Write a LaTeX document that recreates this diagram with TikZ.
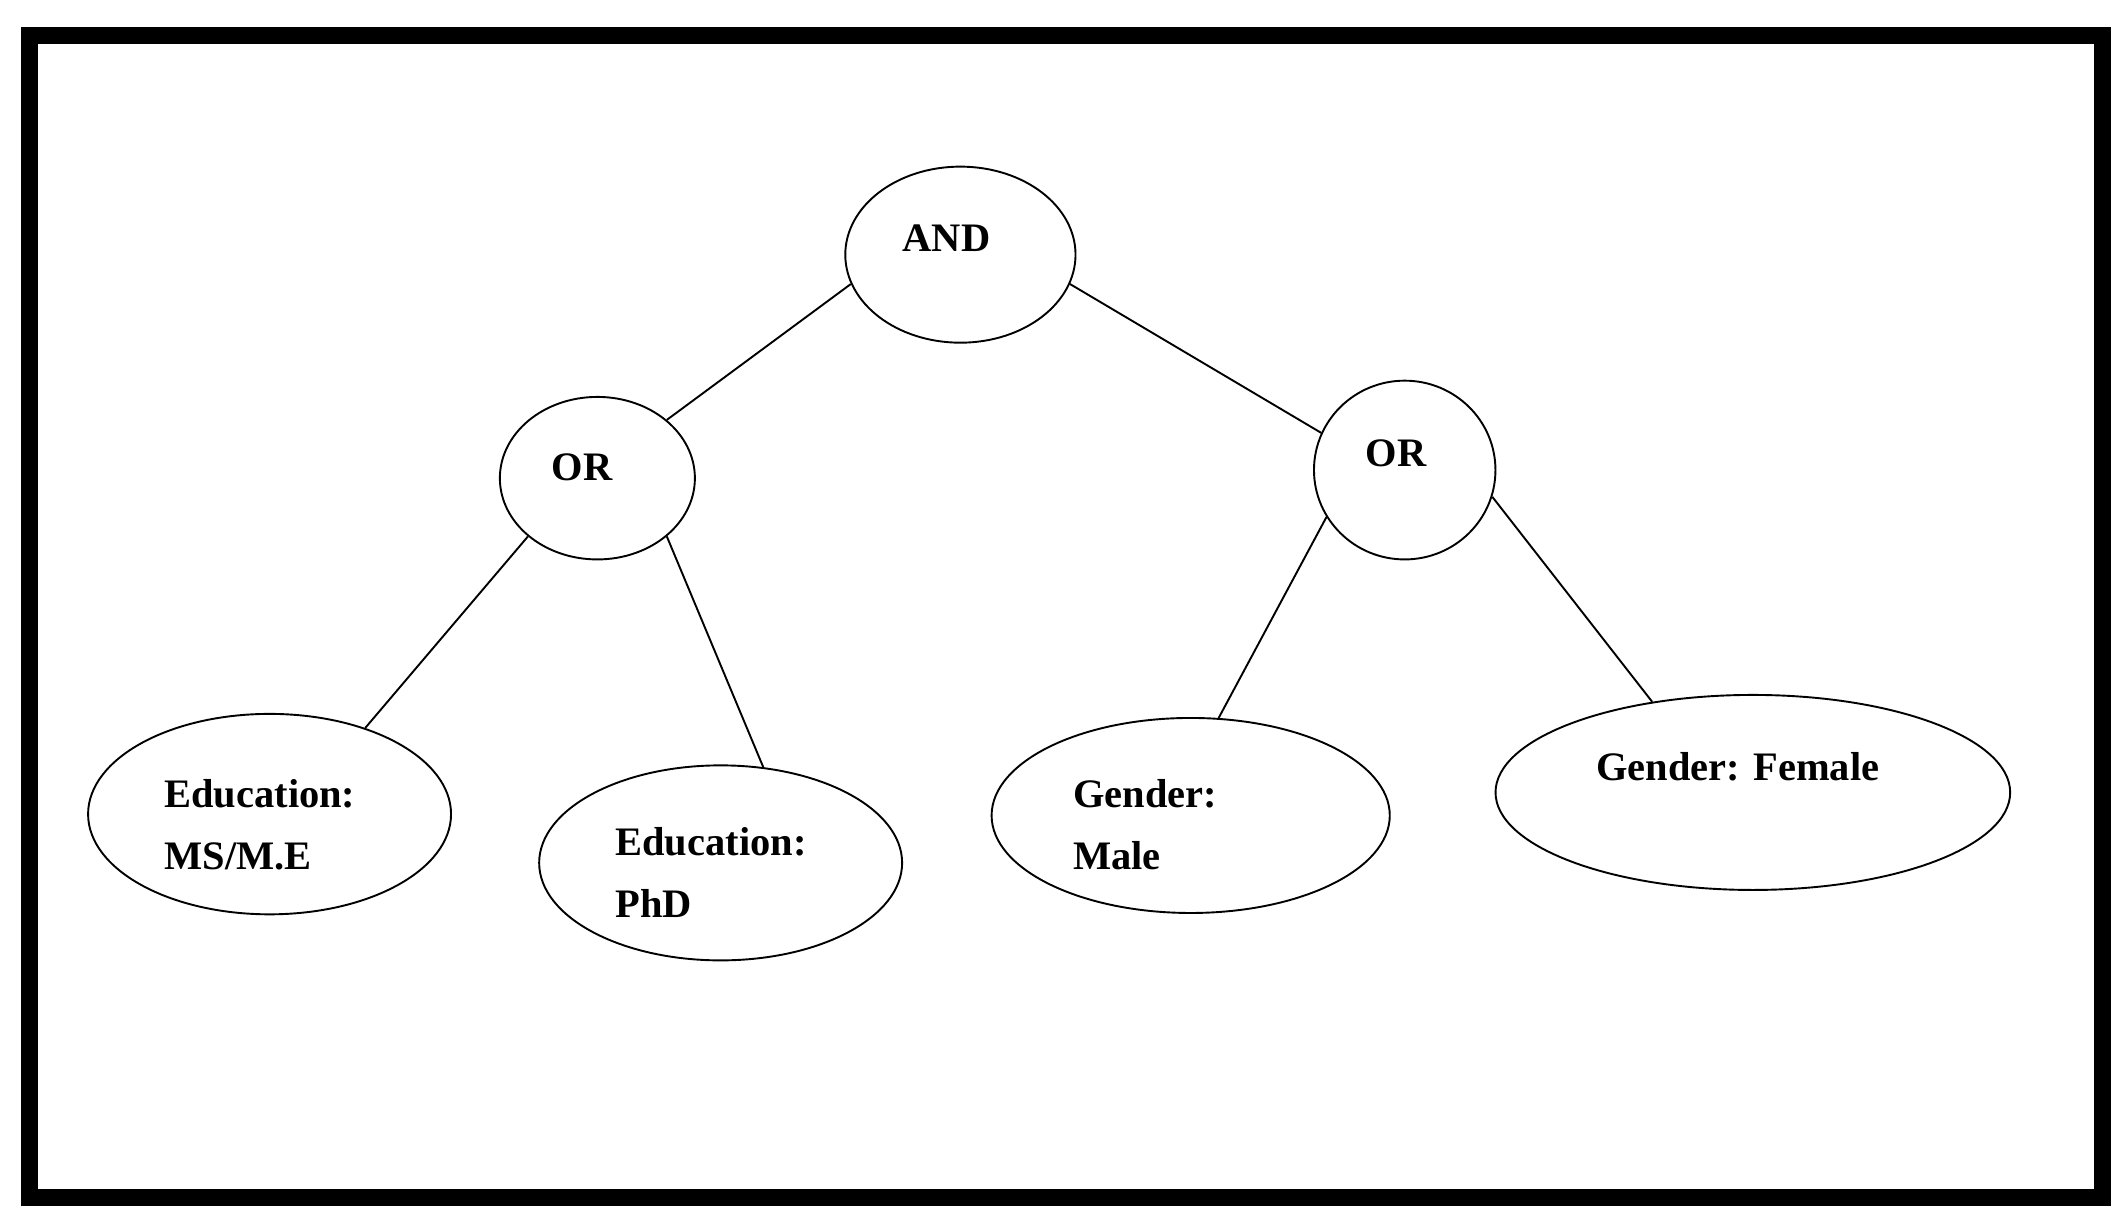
\documentclass[tikz,border=0pt]{standalone}
\usepackage{fontspec}
\setmainfont{Liberation Serif}
\usetikzlibrary{shapes.geometric}
\begin{document}
\begin{tikzpicture}[x=0.02cm,y=-0.02cm,
  el/.style={draw,ellipse,line width=0.8pt,inner sep=0pt},
  tx/.style={anchor=west,align=left,font=\fontsize{17}{26}\selectfont\bfseries,inner sep=0pt},
  ln/.style={line width=0.8pt}]
\useasboundingbox (0,0) rectangle (1568,902);
\draw[line width=7pt] (22,26) rectangle (1552,884);
\node[el,minimum width=170\pgflinewidth*0+3.4cm,minimum height=2.6cm] (and) at (709,188) {};
\node[el,minimum width=2.88cm,minimum height=2.4cm] (orl) at (441,353) {};
\node[el,minimum width=2.68cm,minimum height=2.64cm] (orr) at (1037,347) {};
\node[el,minimum width=5.36cm,minimum height=2.96cm] (ms) at (199,601) {};
\node[el,minimum width=5.36cm,minimum height=2.88cm] (phd) at (532,637) {};
\node[el,minimum width=5.88cm,minimum height=2.88cm] (male) at (879,602) {};
\node[el,minimum width=7.6cm,minimum height=2.88cm] (fem) at (1294,585) {};
\node[tx] (tand) at (666,176) {AND};
\node[tx] (torl) at (407,345) {OR};
\node[tx] (torr) at (1008,335) {OR};
\node[tx] (tms) at (121,609) {Education:\\MS/M.E};
\node[tx] (tphd) at (454,644) {Education:\\PhD};
\node[tx] (tmale) at (792,609) {Gender:\\Male};
\node[tx] (tfem) at (1178,566) {Gender: Female};
\draw[ln] (and.195) -- (orl.40);
\draw[ln] (and.345) -- (orr.156);
\draw[ln] (orl.220) -- (ms.42);
\draw[ln] (orl.320) -- (phd.66);
\draw[ln] (orr.211) -- (male.74);
\draw[ln] (orr.343) -- (fem.138);
\end{tikzpicture}
\end{document}
